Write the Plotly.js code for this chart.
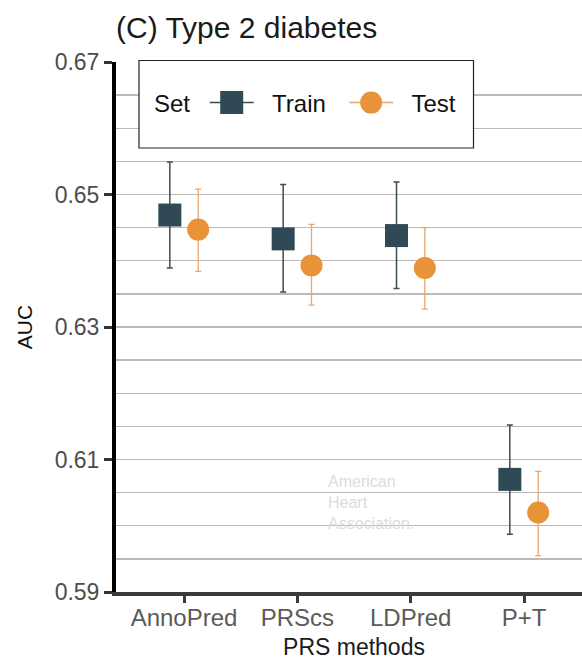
<!DOCTYPE html>
<html>
<head>
<meta charset="utf-8">
<script src="https://cdn.plot.ly/plotly-3.0.1.min.js"></script>
<style>
html,body{margin:0;padding:0;background:#fff;overflow:hidden;width:582px;height:661px;}
#chart{width:592px;height:661px;}
</style>
</head>
<body>
<div id="chart"></div>
<script>
// ---- data ----
var methods = ['AnnoPred', 'PRScs', 'LDPred', 'P+T'];
var trainAUC   = [0.6469, 0.6433, 0.6438, 0.6070];
var trainLower = [0.6389, 0.6353, 0.6358, 0.5987];
var trainUpper = [0.6549, 0.6515, 0.6519, 0.6152];
var testAUC    = [0.6447, 0.6393, 0.6389, 0.6020];
var testLower  = [0.6384, 0.6333, 0.6327, 0.5955];
var testUpper  = [0.6508, 0.6455, 0.6450, 0.6082];
var yTicks = [0.59, 0.61, 0.63, 0.65, 0.67];

// ---- style ----
var trainColor = '#2f4a56', trainBar = '#3e4c53';
var testColor = '#e8923a', testBar = '#eba66a';
var dodge = 0.125;
var pos = methods.map(function (m, i) { return i + 1; });
var nb = '\u00a0';

function diff(a, b) { return a.map(function (v, i) { return v - b[i]; }); }

var traces = [
  // legend-only keys
  {x: [null], y: [null], name: nb + nb + 'Train' + nb + nb, mode: 'lines+markers', type: 'scatter',
   line: {color: trainBar, width: 1.5}, marker: {symbol: 'square', size: 16, color: trainColor}},
  {x: [null], y: [null], name: nb + nb + 'Test', mode: 'lines+markers', type: 'scatter',
   line: {color: testBar, width: 1.5}, marker: {symbol: 'circle', size: 16, color: testColor}},
  // data
  {x: pos.map(function (p) { return p - dodge; }), y: trainAUC, name: 'Train', showlegend: false,
   mode: 'markers', type: 'scatter', hoverinfo: 'y',
   marker: {symbol: 'square', size: 23, color: trainColor},
   error_y: {type: 'data', symmetric: false, array: diff(trainUpper, trainAUC),
             arrayminus: diff(trainAUC, trainLower), color: trainBar, thickness: 1.5, width: 3}},
  {x: pos.map(function (p) { return p + dodge; }), y: testAUC, name: 'Test', showlegend: false,
   mode: 'markers', type: 'scatter', hoverinfo: 'y',
   marker: {symbol: 'circle', size: 22, color: testColor},
   error_y: {type: 'data', symmetric: false, array: diff(testUpper, testAUC),
             arrayminus: diff(testAUC, testLower), color: testBar, thickness: 1.3, width: 3}}
];

var W = 592, H = 661, L = 116, R = 0, T = 62, B = 69;
var pw = W - L - R, ph = H - T - B;
function px(x) { return (x - L) / pw; }
function py(y) { return 1 - (y - T) / ph; }

var font = 'Liberation Sans, Arial, sans-serif';

var layout = {
  width: W, height: H,
  margin: {l: L, r: R, t: T, b: B, pad: 0},
  paper_bgcolor: '#ffffff', plot_bgcolor: '#ffffff',
  font: {family: font, color: '#222'},
  showlegend: true,
  title: {text: '(C) Type 2 diabetes', font: {family: font, size: 30, color: '#1a1a1a'},
          xref: 'paper', x: 0, xanchor: 'left', yref: 'container', y: 1 - 27 / H, yanchor: 'middle'},
  xaxis: {
    range: [0.4, 4.6], tickmode: 'array', tickvals: pos, ticktext: methods,
    showgrid: false, zeroline: false,
    showline: true, linecolor: '#3a3a3a', linewidth: 3.5,
    ticks: 'outside', ticklen: 7, tickwidth: 3, tickcolor: '#3a3a3a',
    ticklabelstandoff: -5,
    tickfont: {family: font, size: 24, color: '#5a5a5a'},
    title: {text: 'PRS methods', font: {family: font, size: 23, color: '#1a1a1a'}, standoff: 9},
    fixedrange: true
  },
  yaxis: {
    range: [0.59, 0.67], tickmode: 'array', tickvals: yTicks,
    ticktext: yTicks.map(function (v) { return v.toFixed(2); }),
    showgrid: true, gridcolor: '#bababa', gridwidth: 1.3,
    minor: {dtick: 0.005, tick0: 0.59, showgrid: true, gridcolor: '#bababa', gridwidth: 1.3, ticks: ''},
    zeroline: false,
    showline: true, linecolor: '#000000', linewidth: 4,
    ticks: 'outside', ticklen: 8, tickwidth: 3, tickcolor: '#333',
    tickfont: {family: font, size: 23, color: '#4d4d4d'},
    title: {text: 'AUC', font: {family: font, size: 21, color: '#111'}, standoff: 17},
    fixedrange: true
  },
  legend: {
    orientation: 'h', x: px(152), xanchor: 'left', y: py(103), yanchor: 'middle',
    bgcolor: 'rgba(0,0,0,0)', borderwidth: 0,
    itemwidth: 44, itemclick: false, itemdoubleclick: false,
    font: {family: font, size: 24, color: '#111'},
    title: {text: 'Set ', side: 'left', font: {family: font, size: 24, color: '#111'}}
  },
  shapes: [
    {type: 'rect', xref: 'paper', yref: 'paper', layer: 'above',
     x0: px(139), x1: px(473.5), y0: py(148), y1: py(60.5),
     line: {color: '#222', width: 1.2}, fillcolor: '#ffffff'}
  ],
  annotations: [
    {text: 'American<br>Heart<br>Association.', xref: 'paper', yref: 'paper',
     x: px(326), y: py(502), xanchor: 'left', yanchor: 'middle', align: 'left', showarrow: false,
     font: {family: font, size: 16, color: '#dcdcdc'}}
  ]
};

Plotly.newPlot('chart', traces, layout, {displayModeBar: false, staticPlot: true}).then(function () {
  var pts = document.querySelectorAll('.legend path.scatterpts');
  var k = [23 / 16, 22 / 16];
  pts.forEach(function (p, i) {
    var t = p.getAttribute('transform') || '';
    p.setAttribute('transform', t + ' scale(' + (k[i] || 1.4) + ')');
  });
});
</script>
</body>
</html>
